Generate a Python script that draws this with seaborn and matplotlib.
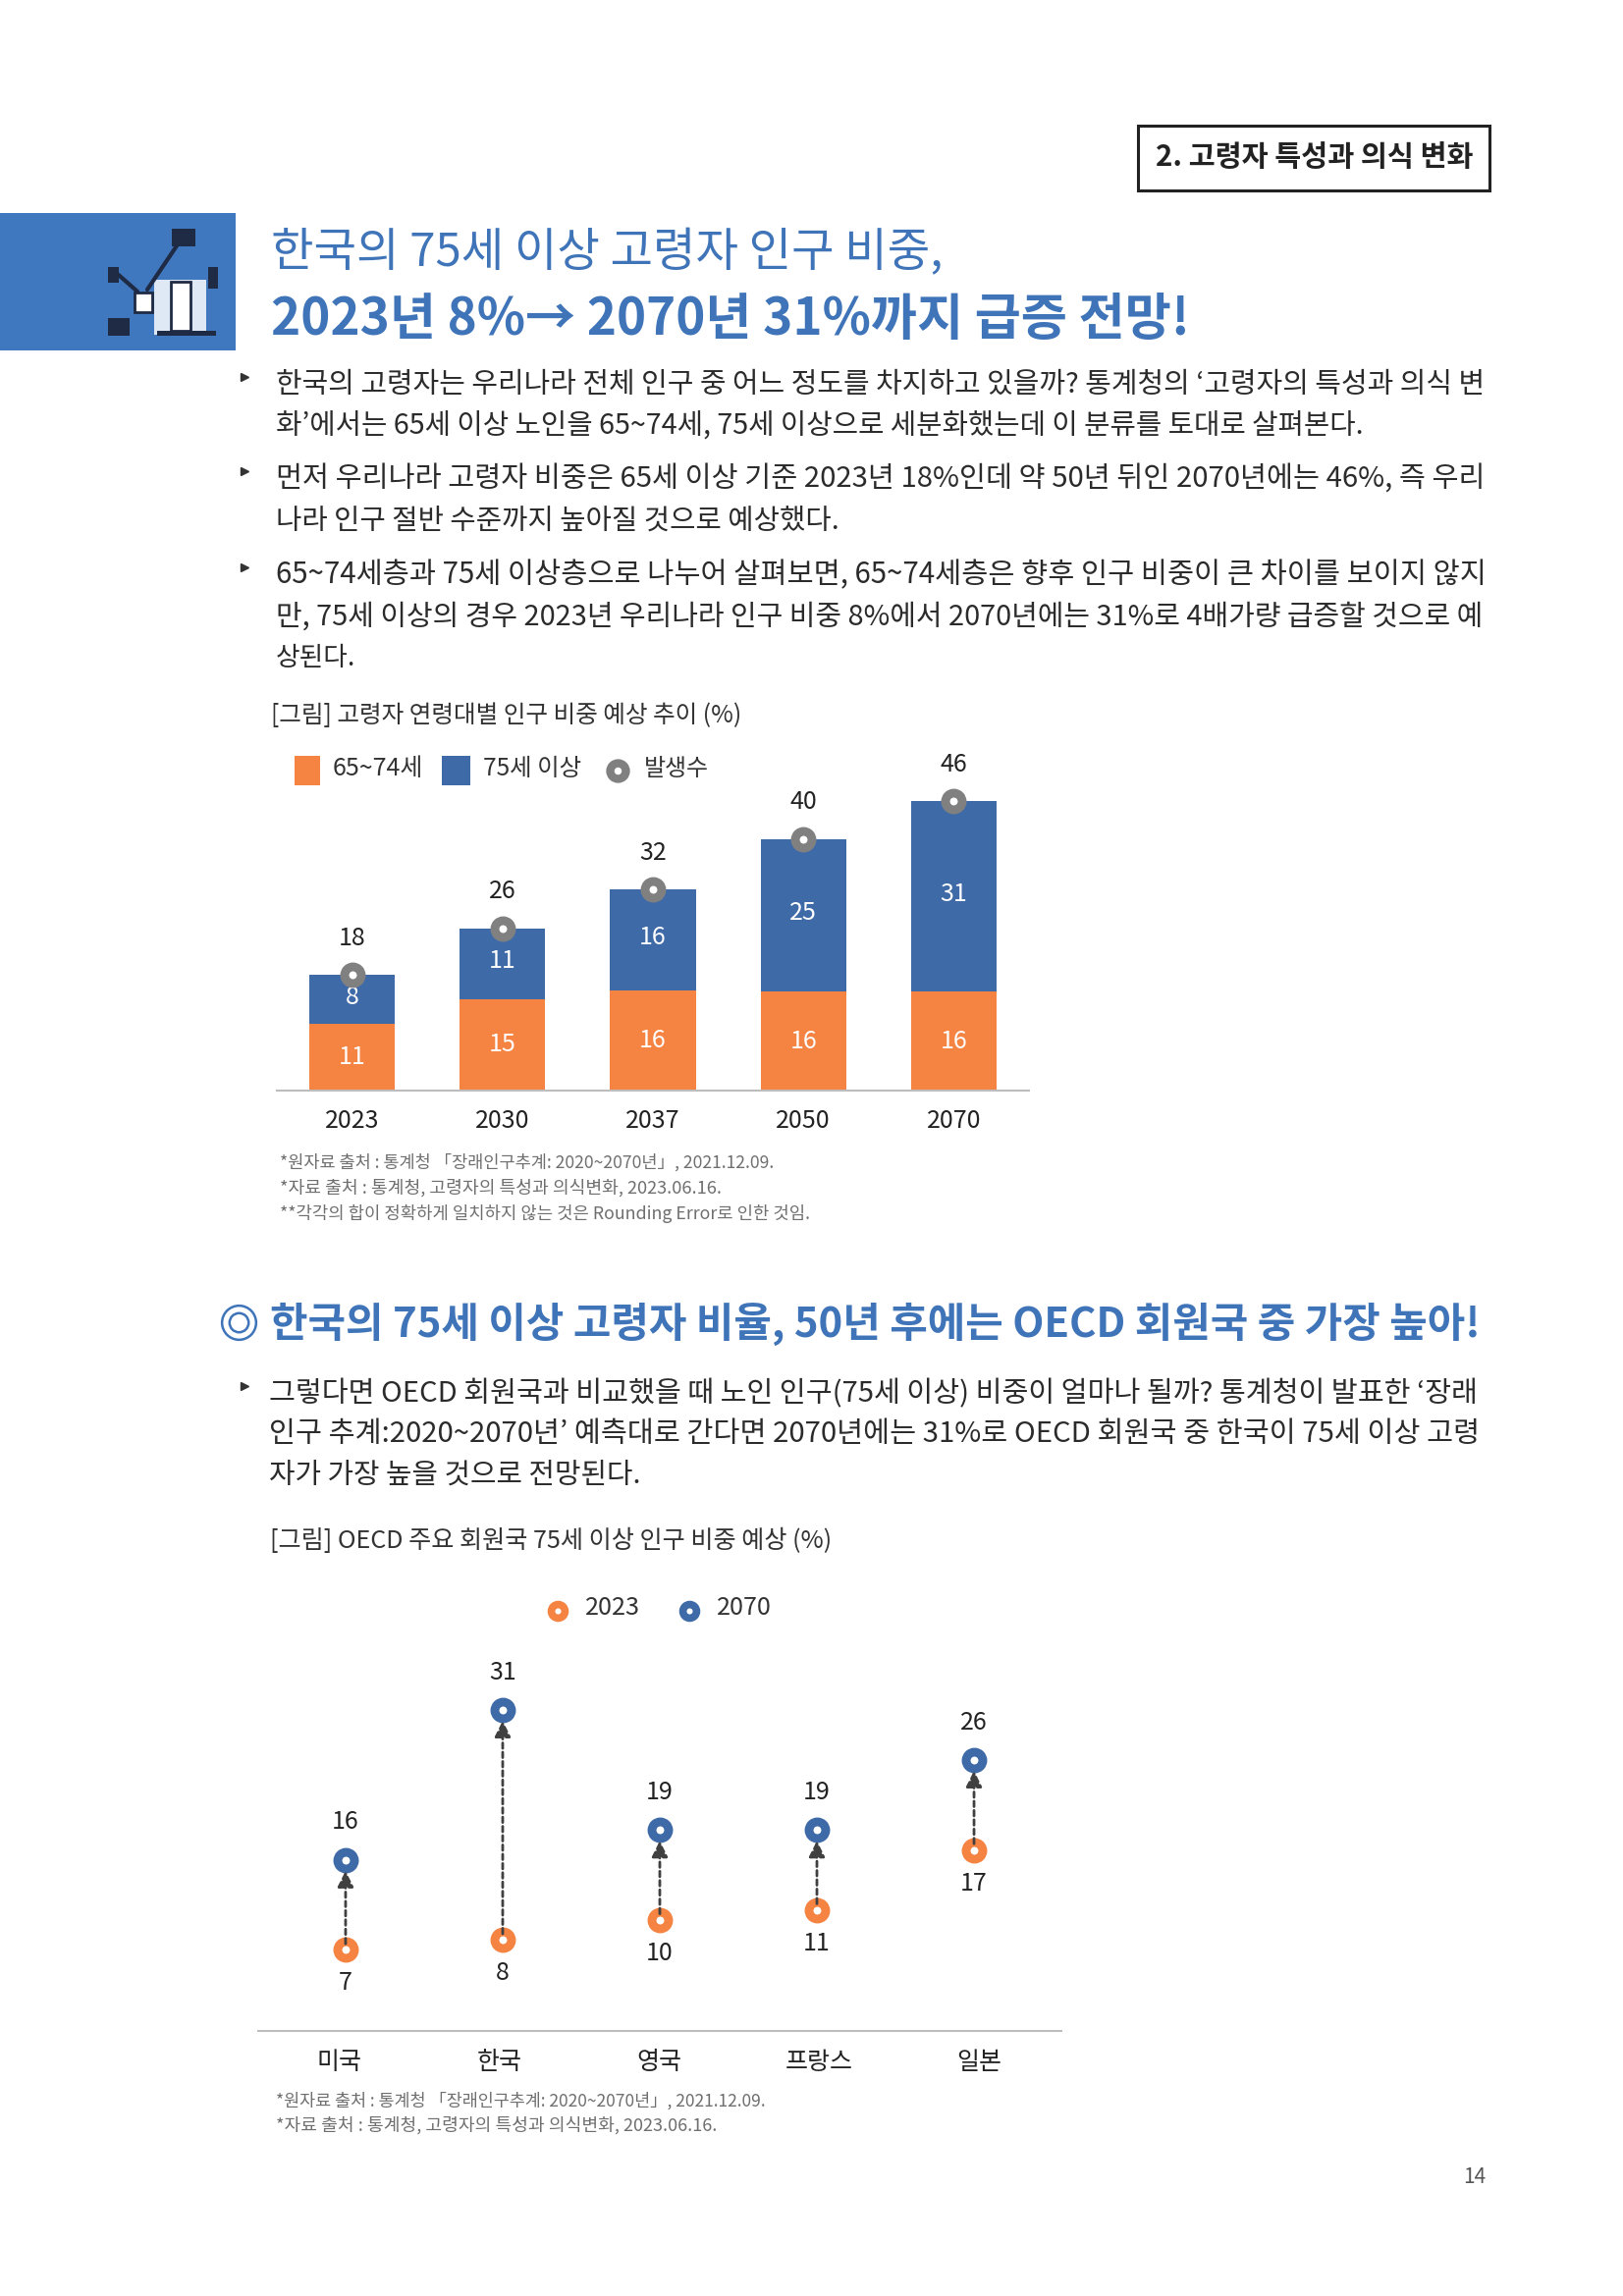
import numpy as np
import pandas as pd
import matplotlib
matplotlib.use('Agg')
import matplotlib.pyplot as plt
from matplotlib.patches import Rectangle
import seaborn as sns

W, H = 1653, 2339

# chart 1
years = ['2023', '2030', '2037', '2050', '2070']
total_vals = [18.4, 25.8, 32.0, 40.0, 46.0]
young_vals = [10.6, 14.6, 16.0, 15.7, 15.7]
young_labels = ['11', '15', '16', '16', '16']
old_labels = ['8', '11', '16', '25', '31']
total_labels = ['18', '26', '32', '40', '46']

# chart 2
countries = ['미국', '한국', '영국', '프랑스', '일본']
vals_2023 = [7, 8, 10, 11, 17]
vals_2070 = [16, 31, 19, 19, 26]

ORANGE = '#f58342'
BLUE = '#3f6aa8'
GREY = '#808080'
TITLE_BLUE = '#3f74b9'
TXT = '#2b2b2b'
NOTE = '#6f6f6f'
LIGHT = 'light'

sns.set_theme(style='white')
plt.rcParams['font.family'] = ['Noto Sans CJK KR', 'DejaVu Sans']

fig = plt.figure(figsize=(W / 100, H / 100), dpi=100, facecolor='white')
renderer = fig.canvas.get_renderer()

# whole page in pixels
page = fig.add_axes([0, 0, 1, 1])
page.set_xlim(0, W)
page.set_ylim(H, 0)
page.axis('off')


def put_line(txt, x0, x1, y, color=TXT, weight=LIGHT):
    # font size is fitted so the line runs from x0 to x1
    t = page.text(x0, y, txt, ha='left', va='center', fontsize=20, color=color, fontweight=weight)
    w = t.get_window_extent(renderer).width
    t.set_fontsize(20 * (x1 - x0) / w)
    return t


def bullet(y):
    page.plot([249], [y - 5], marker='>', ms=5.5, color='#333333', ls='none')


def axes_px(x0, x1, top, bottom):
    ax = fig.add_axes([x0 / W, 1 - bottom / H, (x1 - x0) / W, (bottom - top) / H])
    ax.patch.set_alpha(0)
    return ax


def ring(ax, x, y, color):
    sns.scatterplot(x=x, y=y, marker='o', s=150, color='white', edgecolor=color,
                    linewidth=6.4, ax=ax, legend=False, zorder=4, clip_on=False)


# header box
page.add_patch(Rectangle((1159, 128), 358, 66, fc='white', ec='#222222', lw=2.2))
put_line('2. 고령자 특성과 의식 변화', 1177, 1500, 160, color='#222222', weight='bold')

# blue block with the icon
page.add_patch(Rectangle((0, 217), 240, 140, fc='#3f78bf', ec='none'))
page.add_patch(Rectangle((157, 285), 53, 56, fc='#dfe8f5', ec='none'))
page.add_patch(Rectangle((174, 287), 20, 50, fc='white', ec='#1f2a44', lw=2))
page.add_patch(Rectangle((137, 298), 18, 20, fc='white', ec='#1f2a44', lw=2))
page.plot([150, 185], [295, 243], color='#1f2a44', lw=3)
page.plot([115, 140], [275, 297], color='#1f2a44', lw=3)
page.add_patch(Rectangle((175, 233), 24, 18, fc='#1f2a44', ec='none'))
page.add_patch(Rectangle((110, 272), 11, 16, fc='#1f2a44', ec='none'))
page.add_patch(Rectangle((212, 272), 10, 22, fc='#1f2a44', ec='none'))
page.add_patch(Rectangle((110, 324), 22, 18, fc='#1f2a44', ec='none'))
page.add_patch(Rectangle((160, 337), 60, 5, fc='#1f2a44', ec='none'))

# titles
put_line('한국의 75세 이상 고령자 인구 비중,', 276, 959, 258, color=TITLE_BLUE)
put_line('2023년 8%→ 2070년 31%까지 급증 전망!', 276, 1210, 326, color=TITLE_BLUE, weight='bold')

# body text 1
put_line('한국의 고령자는 우리나라 전체 인구 중 어느 정도를 차지하고 있을까? 통계청의 ‘고령자의 특성과 의식 변', 281, 1510, 392)
put_line('화’에서는 65세 이상 노인을 65~74세, 75세 이상으로 세분화했는데 이 분류를 토대로 살펴본다.', 281, 1388, 434)
put_line('먼저 우리나라 고령자 비중은 65세 이상 기준 2023년 18%인데 약 50년 뒤인 2070년에는 46%, 즉 우리', 281, 1510, 488)
put_line('나라 인구 절반 수준까지 높아질 것으로 예상했다.', 281, 853, 531)
put_line('65~74세층과 75세 이상층으로 나누어 살펴보면, 65~74세층은 향후 인구 비중이 큰 차이를 보이지 않지', 281, 1510, 586)
put_line('만, 75세 이상의 경우 2023년 우리나라 인구 비중 8%에서 2070년에는 31%로 4배가량 급증할 것으로 예', 281, 1510, 629)
put_line('상된다.', 281, 362, 671)
for yy in [389, 485, 583]:
    bullet(yy)

# chart 1
put_line('[그림] 고령자 연령대별 인구 비중 예상 추이 (%)', 276, 756, 729, color='#333333')

page.add_patch(Rectangle((300, 770), 26, 30, fc=ORANGE, ec='none'))
put_line('65~74세', 339, 431, 783, color='#333333')
page.add_patch(Rectangle((450, 770), 29, 30, fc=BLUE, ec='none'))
put_line('75세 이상', 492, 592, 783, color='#333333')
page.plot([629], [785], marker='o', ms=11.5, mfc='white', mec=GREY, mew=6, ls='none')
put_line('발생수', 656, 722, 783, color='#333333')

df_age = pd.DataFrame({'year': years, 'total': total_vals, 'young': young_vals})

ax1 = axes_px(282, 1048, 764, 1111)
sns.barplot(data=df_age, x='year', y='total', color=BLUE, saturation=1, width=0.57, linewidth=0, ax=ax1)
sns.barplot(data=df_age, x='year', y='young', color=ORANGE, saturation=1, width=0.57, linewidth=0, ax=ax1)
ring(ax1, np.arange(5), total_vals, GREY)
ax1.set_xlim(-0.5, 4.5)
ax1.set_ylim(0, 54.2)
ax1.set_xlabel('')
ax1.set_ylabel('')
ax1.set_yticks([])
ax1.tick_params(axis='x', length=0, pad=13, labelsize=18, labelcolor='#222222')
sns.despine(ax=ax1, left=True)
ax1.spines['bottom'].set_color('#bdbdbd')
ax1.spines['bottom'].set_linewidth(1.5)

for i in range(5):
    ax1.text(i, young_vals[i] / 2, young_labels[i], ha='center', va='center', color='white', fontsize=18, fontweight=LIGHT)
    ax1.text(i, (young_vals[i] + total_vals[i]) / 2 + 0.4, old_labels[i], ha='center', va='center', color='white', fontsize=18, fontweight=LIGHT)
    ax1.annotate(total_labels[i], (i, total_vals[i]), xytext=(0, 27), textcoords='offset points',
                 ha='center', va='center', color='#222222', fontsize=18, fontweight=LIGHT)

put_line('*원자료 출처 : 통계청 「장래인구추계: 2020~2070년」, 2021.12.09.', 285, 788, 1184, color=NOTE)
put_line('*자료 출처 : 통계청, 고령자의 특성과 의식변화, 2023.06.16.', 285, 734, 1210, color=NOTE)
put_line('**각각의 합이 정확하게 일치하지 않는 것은 Rounding Error로 인한 것임.', 285, 824, 1236, color=NOTE)

# section 2
page.plot([243], [1347], marker='o', ms=25, mfc='white', mec=TITLE_BLUE, mew=1.8, ls='none')
page.plot([243], [1347], marker='o', ms=14, mfc='white', mec=TITLE_BLUE, mew=1.8, ls='none')
put_line('한국의 75세 이상 고령자 비율, 50년 후에는 OECD 회원국 중 가장 높아!', 275, 1505, 1349, color=TITLE_BLUE, weight='bold')

put_line('그렇다면 OECD 회원국과 비교했을 때 노인 인구(75세 이상) 비중이 얼마나 될까? 통계청이 발표한 ‘장래', 274, 1504, 1420)
put_line('인구 추계:2020~2070년’ 예측대로 간다면 2070년에는 31%로 OECD 회원국 중 한국이 75세 이상 고령', 274, 1504, 1461)
put_line('자가 가장 높을 것으로 전망된다.', 274, 651, 1503)
bullet(1417)

put_line('[그림] OECD 주요 회원국 75세 이상 인구 비중 예상 (%)', 275, 847, 1570, color='#333333')

# chart 2
page.plot([568], [1641], marker='o', ms=10, mfc='white', mec=ORANGE, mew=5.5, ls='none')
put_line('2023', 596, 652, 1638, color='#333333')
page.plot([702], [1641], marker='o', ms=10, mfc='white', mec=BLUE, mew=5.5, ls='none')
put_line('2070', 730, 786, 1638, color='#333333')

df_oecd = pd.DataFrame({'pos': np.arange(5), 'country': countries, 'y2023': vals_2023, 'y2070': vals_2070})

ax2 = axes_px(263, 1081, 1700, 2069)
ring(ax2, df_oecd['pos'], df_oecd['y2023'], ORANGE)
ring(ax2, df_oecd['pos'], df_oecd['y2070'], BLUE)
ax2.set_xlim(-0.556, 4.556)
ax2.set_ylim(-1.1, 35.1)
ax2.set_xlabel('')
ax2.set_ylabel('')
ax2.set_yticks([])
ax2.set_xticks(np.linspace(-0.04, 4.03, 5), countries)
ax2.tick_params(axis='x', length=0, pad=13.5, labelsize=18, labelcolor='#222222')
sns.despine(ax=ax2, left=True)
ax2.spines['bottom'].set_color('#bdbdbd')
ax2.spines['bottom'].set_linewidth(1.5)

for i in range(5):
    ax2.annotate('', xy=(i, vals_2070[i]), xytext=(i, vals_2023[i]),
                 arrowprops=dict(arrowstyle='-|>,head_length=0.7,head_width=0.35', mutation_scale=14,
                                 color='#404040', lw=2, ls=(0, (2, 1.4)), shrinkA=4.5, shrinkB=8),
                 zorder=5)
    ax2.annotate(str(vals_2070[i]), (i, vals_2070[i]), xytext=(0, 27.5), textcoords='offset points',
                 ha='center', va='center', color='#222222', fontsize=18, fontweight=LIGHT)
    ax2.annotate(str(vals_2023[i]), (i, vals_2023[i]), xytext=(0, -24.5), textcoords='offset points',
                 ha='center', va='center', color='#222222', fontsize=18, fontweight=LIGHT)

put_line('*원자료 출처 : 통계청 「장래인구추계: 2020~2070년」, 2021.12.09.', 281, 781, 2140, color=NOTE)
put_line('*자료 출처 : 통계청, 고령자의 특성과 의식변화, 2023.06.16.', 281, 729, 2165, color=NOTE)

# page number
page.text(1502, 2218, '14', ha='center', va='center', fontsize=15, color='#555555', fontweight=LIGHT)

fig.savefig('out.png', dpi=100)
